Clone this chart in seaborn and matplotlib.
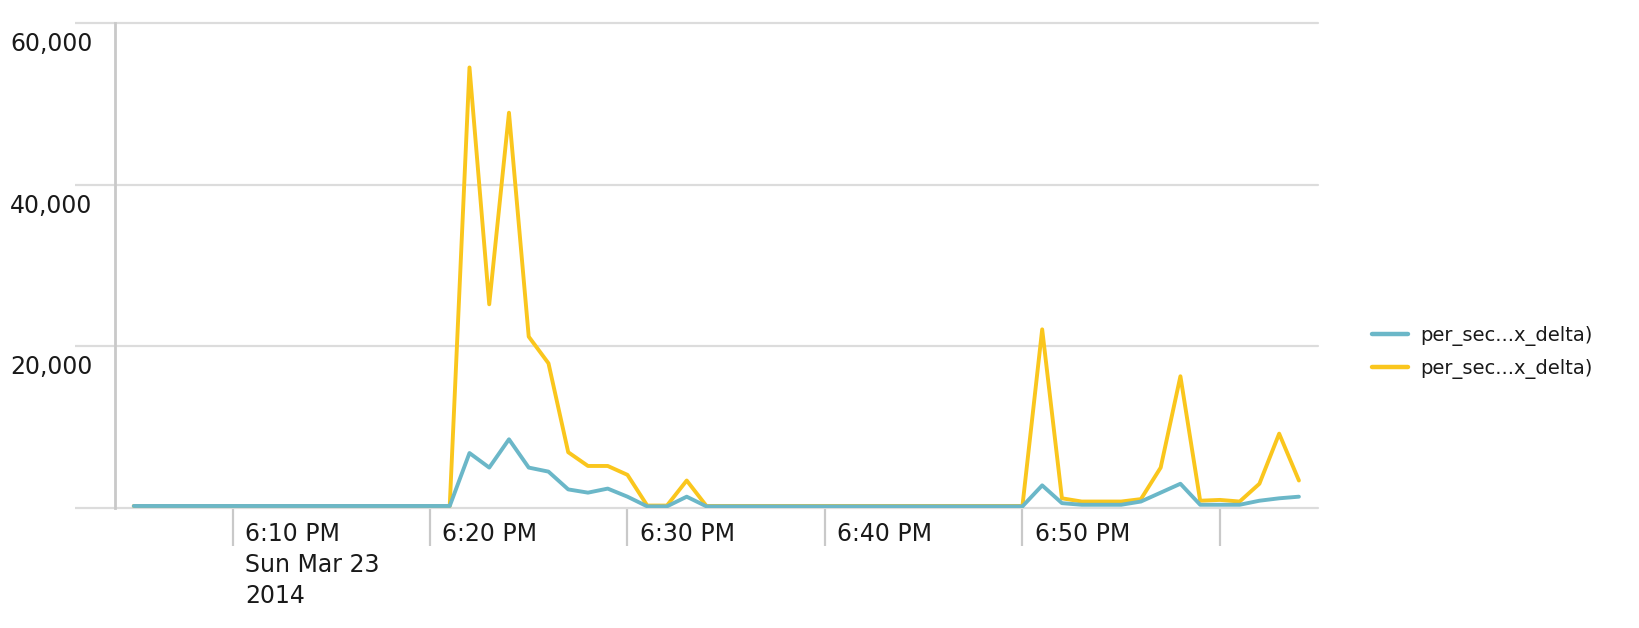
import matplotlib
matplotlib.use("Agg")
import matplotlib.pyplot as plt
import matplotlib.dates as mdates
import seaborn as sns
import pandas as pd

# ---------------- data ----------------
start_time = "2014-03-23 18:05"
series_label = "per_sec...x_delta)"

blue_values = [
    250, 250, 250, 250, 250, 250, 250, 250, 250, 250,      # 6:05 - 6:14
    250, 250, 250, 250, 250, 250, 250,                     # 6:15 - 6:21
    6800, 5000, 8500, 5000, 4500, 2300, 1900, 2400, 1400,  # 6:22 - 6:30
    200, 200, 1400,                                        # 6:31 - 6:33
    200, 200, 200, 200, 200, 200, 200, 200, 200, 200,      # 6:34 - 6:43
    200, 200, 200, 200, 200, 200, 200,                     # 6:44 - 6:50
    2800, 600, 400, 400, 400, 800, 1900, 3000,             # 6:51 - 6:58
    400, 400, 400, 900, 1200, 1400,                        # 6:59 - 7:04
]
yellow_values = [
    250, 250, 250, 250, 250, 250, 250, 250, 250, 250,
    250, 250, 250, 250, 250, 250, 250,
    54500, 25200, 48900, 21200, 17900, 6900, 5200, 5200, 4100,
    300, 300, 3400,
    250, 250, 250, 250, 250, 250, 250, 250, 250, 250,
    250, 250, 250, 250, 250, 250, 250,
    22100, 1200, 800, 800, 800, 1100, 5000, 16300,
    900, 1000, 800, 3000, 9200, 3400,
]

y_ticks = [0, 20000, 40000, 60000]
y_tick_labels = ["", "20,000", "40,000", "60,000"]
x_tick_times = ["2014-03-23 18:10", "2014-03-23 18:20", "2014-03-23 18:30",
                "2014-03-23 18:40", "2014-03-23 18:50", "2014-03-23 19:00"]
x_tick_labels = ["6:10 PM\nSun Mar 23\n2014", "6:20 PM", "6:30 PM",
                 "6:40 PM", "6:50 PM", ""]
x_limits = ["2014-03-23 18:04:03", "2014-03-23 19:04:58"]

# ---------------- style ----------------
sns.set_theme(style="white")
plt.rcParams['font.family'] = ['DejaVu Sans']

BLUE = "#6BB7C8"
YELLOW = "#FAC61D"
GRID = "#dcdcdc"
AXIS = "#c9c9c9"
TEXT = "#1a1a1a"

W, H = 1640, 628
fig = plt.figure(figsize=(W / 100, H / 100), dpi=100)
fig.patch.set_facecolor("white")
ax = fig.add_axes([115 / W, (H - 508) / H, (1318 - 115) / W, (508 - 23) / H])

times = pd.date_range(start_time, periods=len(blue_values), freq="min")
df = pd.DataFrame({"time": times, "blue": blue_values, "yellow": yellow_values})

sns.lineplot(data=df, x="time", y="blue", ax=ax, color=BLUE, lw=2.8,
             label=series_label, zorder=4)
sns.lineplot(data=df, x="time", y="yellow", ax=ax, color=YELLOW, lw=2.8,
             label=series_label, zorder=3)

ax.set_xlim(pd.Timestamp(x_limits[0]), pd.Timestamp(x_limits[1]))
ax.set_ylim(0, 60000)
ax.set_xlabel("")
ax.set_ylabel("")

for side in ["top", "right", "bottom"]:
    ax.spines[side].set_visible(False)
ax.spines["left"].set_color(AXIS)
ax.spines["left"].set_linewidth(2.0)

# y grid + left tick stubs extending the grid lines
ax.set_yticks(y_ticks)
ax.yaxis.grid(True, color=GRID, lw=1.6)
ax.xaxis.grid(False)
for gl in ax.get_ygridlines():
    gl.set_clip_on(False)
ax.tick_params(axis="y", left=True, length=28.8, width=1.6, color=GRID,
               labelleft=False, direction="out")

# x ticks
tick_nums = [mdates.date2num(pd.Timestamp(t)) for t in x_tick_times]
ax.set_xticks(tick_nums)
ax.tick_params(axis="x", bottom=True, length=27.4, width=1.6, color=AXIS,
               labelbottom=False, direction="out")

# y tick labels: left-aligned, below their grid line
for v, lab in zip(y_ticks, y_tick_labels):
    ax.annotate(lab, xy=(10, v), xycoords=("figure pixels", "data"),
                xytext=(0, -21), textcoords="offset pixels",
                ha="left", va="center", fontsize=17, color=TEXT,
                annotation_clip=False)

# x tick labels: to the right of each tick
for xn, lab in zip(tick_nums, x_tick_labels):
    ax.annotate(lab, xy=(xn, 0), xycoords=("data", "axes fraction"),
                xytext=(12.5, -14), textcoords="offset pixels",
                ha="left", va="top", fontsize=17, color=TEXT,
                linespacing=1.36, annotation_clip=False)

leg = ax.legend(loc="upper left", bbox_to_anchor=(1372 / W, 1 - 326 / H),
                bbox_transform=fig.transFigure, frameon=False, fontsize=14,
                handlelength=1.85, handletextpad=0.65, labelspacing=0.66,
                borderpad=0, borderaxespad=0)
for txt in leg.get_texts():
    txt.set_color(TEXT)
for line in leg.get_lines():
    line.set_linewidth(3.2)

fig.savefig("out.png", dpi=100, facecolor="white")
